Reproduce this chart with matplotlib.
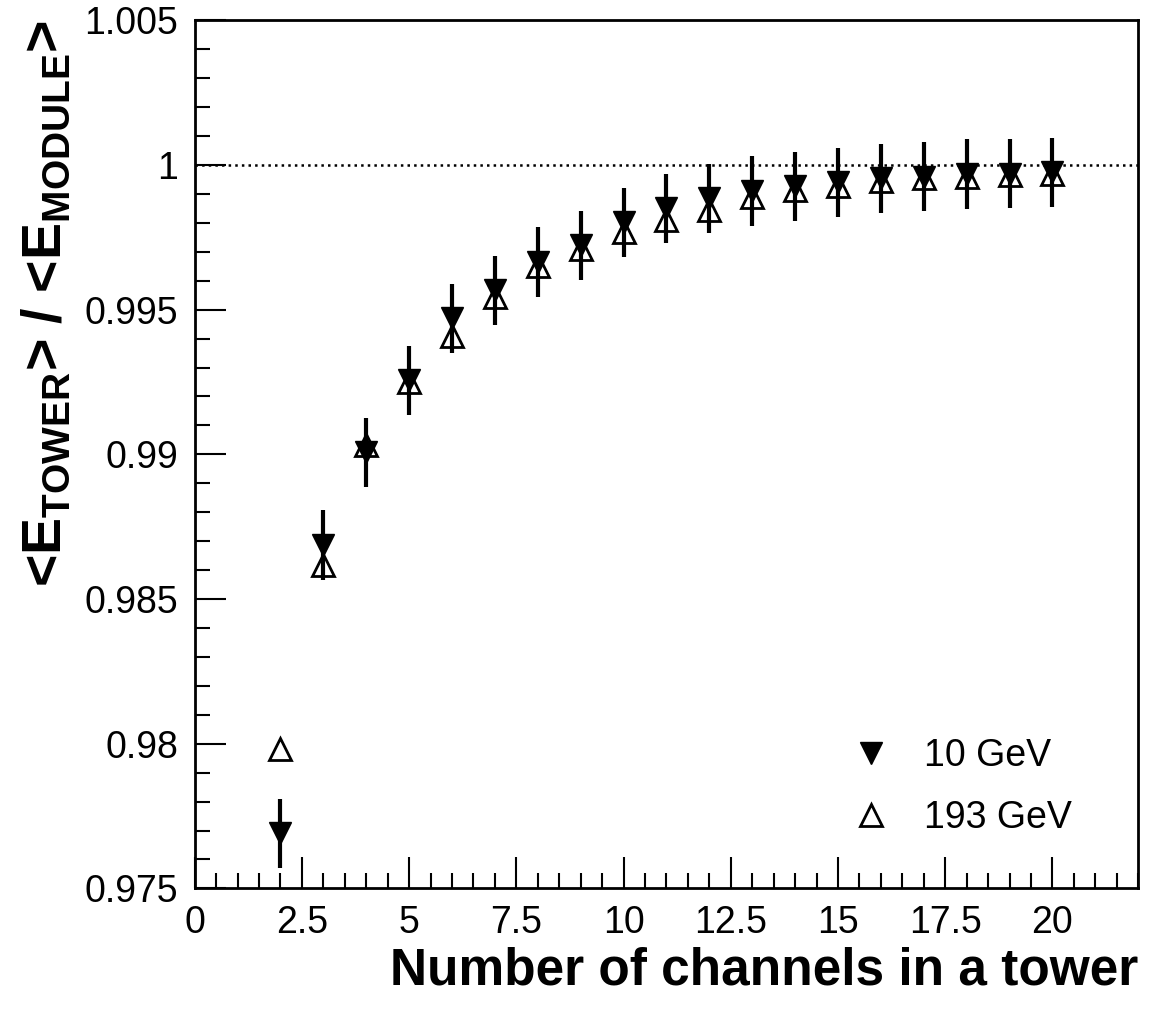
import matplotlib
matplotlib.use("Agg")
import matplotlib.pyplot as plt
from matplotlib.ticker import MultipleLocator, FuncFormatter

plt.rcParams['font.family'] = ['Liberation Sans', 'DejaVu Sans']
plt.rcParams['mathtext.fontset'] = 'custom'
plt.rcParams['mathtext.rm'] = 'Liberation Sans:bold'
plt.rcParams['mathtext.bf'] = 'Liberation Sans:bold'

channels = [2, 3, 4, 5, 6, 7, 8, 9, 10, 11, 12, 13, 14, 15, 16, 17, 18, 19, 20]
e10 = [0.9769, 0.98686, 0.99007, 0.99256, 0.9947, 0.99567, 0.99664, 0.99722, 0.99802, 0.9985,
       0.99885, 0.9991, 0.99926, 0.9994, 0.99954, 0.9996, 0.99968, 0.9997, 0.99974]
err10 = [0.0012] * 19
e193 = [0.9798, 0.98616, 0.99031, 0.9925, 0.9941, 0.99543, 0.9965, 0.9971, 0.9977, 0.99809,
        0.99843, 0.99888, 0.99913, 0.99926, 0.99944, 0.99954, 0.9996, 0.99964, 0.99968]

fig = plt.figure(figsize=(11.52, 10.13), dpi=100)
ax = fig.add_axes([0.169, 0.123, 0.819, 0.857])
ax.axhline(1.0, color='black', linestyle=':', linewidth=1.8)
ax.errorbar(channels, e10, yerr=err10, fmt='none', ecolor='black', elinewidth=3, capsize=0)
ax.plot(channels, e10, linestyle='none', marker='v', markersize=16, color='black', label='10 GeV')
ax.plot(channels, e193, linestyle='none', marker='^', markersize=16, markerfacecolor='none',
        markeredgecolor='black', markeredgewidth=2, label='193 GeV')

ax.set_xlim(0, 22)
ax.set_ylim(0.975, 1.005)
ax.xaxis.set_major_locator(MultipleLocator(2.5))
ax.xaxis.set_minor_locator(MultipleLocator(0.5))
ax.yaxis.set_major_locator(MultipleLocator(0.005))
ax.yaxis.set_minor_locator(MultipleLocator(0.001))
ax.xaxis.set_major_formatter(FuncFormatter(lambda v, p: f'{v:g}'))
ax.yaxis.set_major_formatter(FuncFormatter(lambda v, p: f'{round(v,3):g}'))
ax.tick_params(which='both', direction='in', top=False, right=False, width=1.5, labelsize=27, pad=12)
ax.tick_params(which='major', length=22)
ax.tick_params(which='minor', length=11)
for s in ax.spines.values():
    s.set_linewidth(2)

ax.set_xlabel('Number of channels in a tower', fontsize=37, fontweight='bold', loc='right', labelpad=4)
ax.set_ylabel(r'<E$_{\mathrm{TOWER}}$> / <E$_{\mathrm{MODULE}}$>', fontsize=40, fontweight='bold',
              loc='top', labelpad=8)

ax.legend(loc='lower right', bbox_to_anchor=(0.985, 0.0), frameon=False, fontsize=27,
          handletextpad=0.4, labelspacing=0.7, borderaxespad=1.0)

fig.savefig('out.png', dpi=100)
